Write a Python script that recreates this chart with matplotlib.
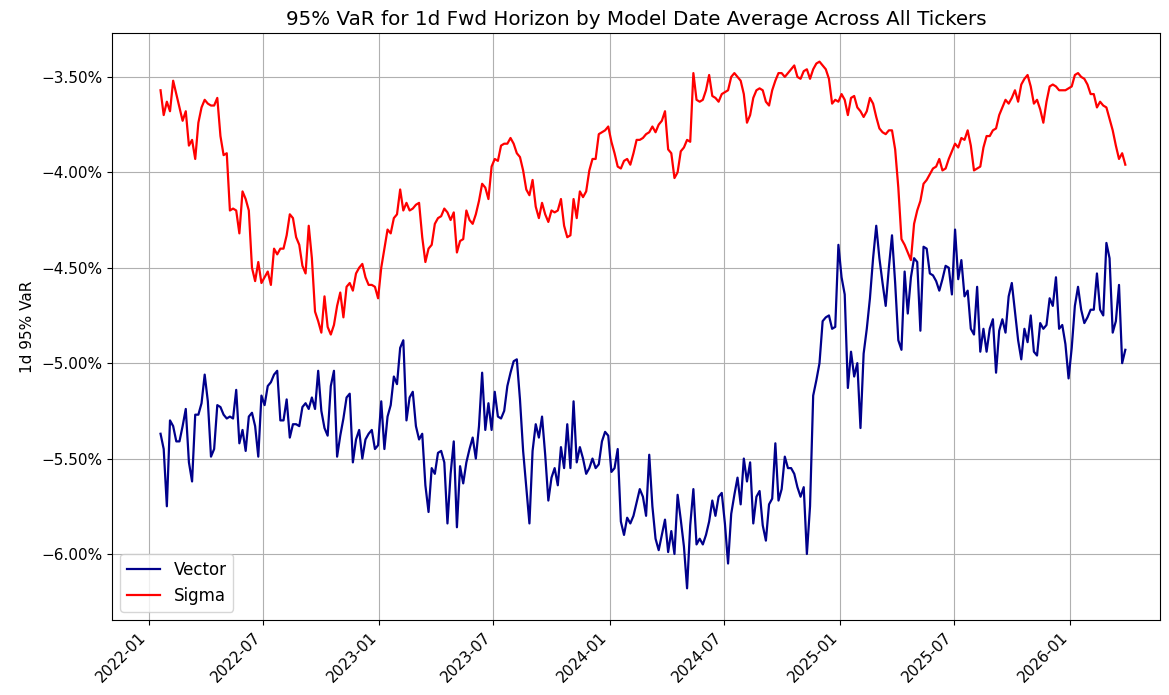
import matplotlib
matplotlib.use("Agg")
import matplotlib.pyplot as plt
import matplotlib.dates as mdates
from matplotlib.ticker import PercentFormatter, MultipleLocator
import pandas as pd

# model dates: one point every 5 days
start_date = "2022-01-19"
step = "5D"

# average 1d 95% VaR across all tickers, in percent
vector_var = [
    -5.37, -5.45, -5.75, -5.30, -5.33, -5.41, -5.41, -5.33, -5.24, -5.52,
    -5.62, -5.27, -5.27, -5.21, -5.06, -5.20, -5.49, -5.45, -5.22, -5.23,
    -5.27, -5.29, -5.28, -5.29, -5.14, -5.42, -5.35, -5.46, -5.28, -5.26,
    -5.33, -5.49, -5.17, -5.22, -5.12, -5.10, -5.06, -5.04, -5.30, -5.30,
    -5.19, -5.39, -5.32, -5.32, -5.33, -5.23, -5.21, -5.24, -5.18, -5.24,
    -5.04, -5.25, -5.34, -5.38, -5.12, -5.04, -5.49, -5.38, -5.29, -5.18,
    -5.16, -5.52, -5.40, -5.35, -5.50, -5.40, -5.37, -5.35, -5.45, -5.43,
    -5.20, -5.45, -5.28, -5.22, -5.07, -5.11, -4.92, -4.88, -5.30, -5.18,
    -5.15, -5.33, -5.40, -5.37, -5.64, -5.78, -5.55, -5.58, -5.47, -5.46,
    -5.52, -5.84, -5.58, -5.41, -5.86, -5.54, -5.63, -5.52, -5.45, -5.39,
    -5.50, -5.33, -5.05, -5.35, -5.21, -5.35, -5.15, -5.28, -5.29, -5.25,
    -5.12, -5.05, -4.99, -4.98, -5.19, -5.46, -5.65, -5.84, -5.46, -5.32,
    -5.39, -5.28, -5.48, -5.72, -5.60, -5.55, -5.64, -5.44, -5.55, -5.32,
    -5.55, -5.20, -5.52, -5.44, -5.50, -5.58, -5.55, -5.50, -5.55, -5.53,
    -5.41, -5.36, -5.38, -5.57, -5.55, -5.45, -5.83, -5.90, -5.81, -5.84,
    -5.80, -5.73, -5.66, -5.70, -5.80, -5.48, -5.75, -5.92, -5.98, -5.90,
    -5.82, -5.99, -5.88, -6.00, -5.69, -5.82, -5.96, -6.18, -5.85, -5.66,
    -5.95, -5.92, -5.95, -5.90, -5.83, -5.72, -5.80, -5.70, -5.68, -5.84,
    -6.05, -5.79, -5.69, -5.60, -5.74, -5.50, -5.62, -5.52, -5.84, -5.70,
    -5.67, -5.85, -5.93, -5.74, -5.71, -5.42, -5.72, -5.66, -5.49, -5.55,
    -5.55, -5.58, -5.65, -5.70, -5.65, -6.00, -5.75, -5.17, -5.09, -5.00,
    -4.78, -4.76, -4.75, -4.82, -4.81, -4.38, -4.55, -4.64, -5.13, -4.94,
    -5.07, -5.00, -5.34, -4.95, -4.82, -4.66, -4.45, -4.28, -4.45, -4.58,
    -4.70, -4.50, -4.33, -4.58, -4.88, -4.93, -4.52, -4.74, -4.55, -4.45,
    -4.47, -4.83, -4.39, -4.40, -4.53, -4.54, -4.57, -4.62, -4.56, -4.49,
    -4.50, -4.64, -4.30, -4.56, -4.46, -4.65, -4.62, -4.82, -4.85, -4.60,
    -4.94, -4.82, -4.94, -4.82, -4.77, -5.05, -4.83, -4.77, -4.84, -4.65,
    -4.58, -4.73, -4.88, -4.98, -4.82, -4.89, -4.75, -4.94, -4.96, -4.79,
    -4.82, -4.80, -4.66, -4.70, -4.55, -4.82, -4.80, -4.90, -5.08, -4.92,
    -4.70, -4.60, -4.72, -4.79, -4.76, -4.72, -4.72, -4.53, -4.72, -4.75,
    -4.37, -4.45, -4.84, -4.78, -4.59, -5.00, -4.93,
]

sigma_var = [
    -3.57, -3.70, -3.63, -3.68, -3.52, -3.59, -3.66, -3.73, -3.68, -3.86,
    -3.83, -3.93, -3.74, -3.66, -3.62, -3.64, -3.65, -3.65, -3.61, -3.81,
    -3.91, -3.90, -4.20, -4.19, -4.20, -4.32, -4.10, -4.14, -4.20, -4.50,
    -4.57, -4.47, -4.58, -4.55, -4.52, -4.59, -4.40, -4.43, -4.40, -4.40,
    -4.33, -4.22, -4.24, -4.34, -4.38, -4.49, -4.53, -4.28, -4.45, -4.73,
    -4.78, -4.84, -4.65, -4.81, -4.85, -4.80, -4.70, -4.63, -4.76, -4.60,
    -4.58, -4.62, -4.53, -4.50, -4.48, -4.55, -4.59, -4.59, -4.60, -4.66,
    -4.50, -4.40, -4.30, -4.32, -4.24, -4.22, -4.09, -4.20, -4.16, -4.20,
    -4.19, -4.17, -4.16, -4.34, -4.47, -4.40, -4.38, -4.27, -4.24, -4.23,
    -4.19, -4.21, -4.25, -4.21, -4.42, -4.36, -4.35, -4.20, -4.25, -4.27,
    -4.22, -4.15, -4.06, -4.08, -4.14, -3.97, -3.93, -3.94, -3.86, -3.85,
    -3.85, -3.82, -3.85, -3.90, -3.92, -3.99, -4.09, -4.12, -4.04, -4.18,
    -4.24, -4.16, -4.22, -4.26, -4.20, -4.21, -4.20, -4.14, -4.28, -4.34,
    -4.33, -4.14, -4.24, -4.10, -4.13, -4.10, -3.99, -3.93, -3.93, -3.80,
    -3.79, -3.78, -3.76, -3.84, -3.90, -3.97, -3.98, -3.94, -3.93, -3.96,
    -3.90, -3.83, -3.83, -3.82, -3.80, -3.79, -3.76, -3.79, -3.75, -3.73,
    -3.68, -3.88, -3.90, -4.03, -4.00, -3.89, -3.87, -3.83, -3.84, -3.48,
    -3.62, -3.63, -3.62, -3.57, -3.49, -3.60, -3.61, -3.63, -3.59, -3.58,
    -3.57, -3.50, -3.48, -3.50, -3.52, -3.59, -3.74, -3.70, -3.61, -3.57,
    -3.56, -3.57, -3.63, -3.65, -3.57, -3.52, -3.48, -3.48, -3.50, -3.48,
    -3.46, -3.44, -3.50, -3.51, -3.47, -3.46, -3.51, -3.46, -3.43, -3.42,
    -3.44, -3.46, -3.51, -3.64, -3.62, -3.63, -3.59, -3.62, -3.70, -3.61,
    -3.60, -3.66, -3.68, -3.71, -3.68, -3.61, -3.64, -3.71, -3.77, -3.79,
    -3.80, -3.78, -3.78, -3.88, -4.08, -4.35, -4.38, -4.42, -4.46, -4.27,
    -4.20, -4.15, -4.06, -4.04, -4.01, -3.98, -3.97, -3.93, -3.99, -3.98,
    -3.93, -3.89, -3.85, -3.87, -3.82, -3.83, -3.78, -3.86, -3.99, -3.98,
    -3.97, -3.87, -3.81, -3.81, -3.78, -3.77, -3.70, -3.66, -3.62, -3.64,
    -3.61, -3.57, -3.63, -3.54, -3.51, -3.49, -3.55, -3.64, -3.62, -3.67,
    -3.74, -3.63, -3.55, -3.54, -3.55, -3.57, -3.57, -3.57, -3.56, -3.55,
    -3.49, -3.48, -3.50, -3.51, -3.54, -3.59, -3.59, -3.66, -3.63, -3.65,
    -3.66, -3.72, -3.78, -3.86, -3.93, -3.90, -3.96,
]

dates = pd.date_range(start_date, periods=len(vector_var), freq=step)

#
fig = plt.figure(figsize=(11.69, 6.95), dpi=100)
ax = fig.add_axes([0.0958, 0.1079, 0.8965, 0.8446])

ax.plot(dates, vector_var, color="darkblue", lw=1.6, label="Vector")
ax.plot(dates, sigma_var, color="red", lw=1.6, label="Sigma")

# axis ranges
ax.set_xlim(pd.Timestamp("2021-11-03"), pd.Timestamp("2026-05-23"))
ax.set_ylim(-6.346, -3.27)

# date ticks every 6 months
ax.xaxis.set_major_locator(mdates.MonthLocator(bymonth=[1, 7]))
ax.xaxis.set_major_formatter(mdates.DateFormatter("%Y-%m"))
plt.setp(ax.get_xticklabels(), rotation=45, ha="right")

ax.yaxis.set_major_locator(MultipleLocator(0.5))
ax.yaxis.set_major_formatter(PercentFormatter(decimals=2))
ax.tick_params(labelsize=11)

ax.grid(True)
ax.set_title("95% VaR for 1d Fwd Horizon by Model Date Average Across All Tickers", fontsize=14.3)
ax.set_ylabel("1d 95% VaR", fontsize=11)
ax.legend(loc="lower left", fontsize=12)

fig.savefig("out.png", dpi=100)
